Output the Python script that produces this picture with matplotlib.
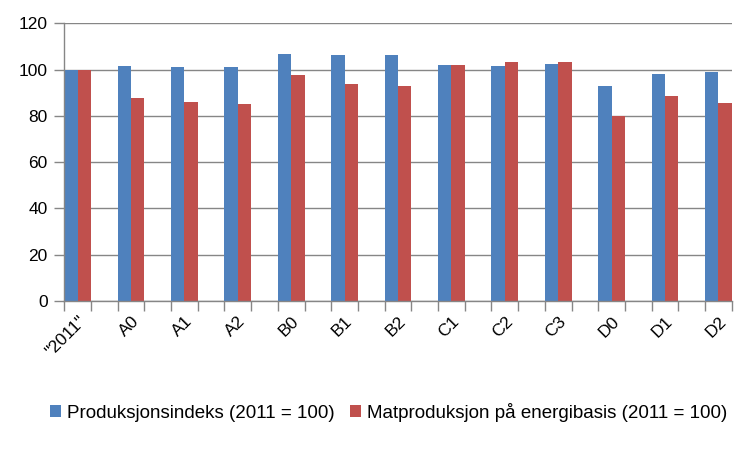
import matplotlib
matplotlib.use("Agg")
import matplotlib.pyplot as plt
import numpy as np

plt.rcParams["font.family"] = ["Liberation Sans", "DejaVu Sans"]

# data
categories = ['"2011"', "A0", "A1", "A2", "B0", "B1", "B2",
              "C1", "C2", "C3", "D0", "D1", "D2"]
prod_index = [100, 101.6, 101.1, 101.1, 106.7, 106.3, 106.3,
              102.0, 101.6, 102.4, 92.9, 98.1, 99.0]
food_energy = [100, 87.7, 86.0, 85.1, 97.7, 93.8, 92.9,
               102.0, 103.3, 103.3, 80.0, 88.6, 85.6]
labels = ["Produksjonsindeks (2011 = 100)",
          "Matproduksjon på energibasis (2011 = 100)"]

blue = "#4F81BD"
red = "#C0504D"
grey = "#868686"

fig = plt.figure(figsize=(7.5, 4.5), dpi=100)
ax = fig.add_axes([0.0857, 0.331, 0.890, 0.617])

# every label sits on every other slot, slots in between are empty
x = np.arange(len(categories)) * 2
w = 0.5
ax.bar(x - w / 2, prod_index, w, color=blue, label=labels[0], zorder=2)
ax.bar(x + w / 2, food_energy, w, color=red, label=labels[1], zorder=2)

ax.set_xlim(-0.5, x[-1] + 0.5)
ax.set_ylim(0, 120)
ax.set_yticks(np.arange(0, 121, 20))
ax.yaxis.grid(True, color=grey, linewidth=1, zorder=0)

ax.set_xticks(x)
ax.set_xticklabels(categories, rotation=45, ha="right", rotation_mode="anchor")
ax.set_xticks(np.arange(-0.5, x[-1] + 1, 1), minor=True)
ax.tick_params(axis="x", which="major", length=0, pad=9, labelsize=12.5)
ax.tick_params(axis="x", which="minor", length=7, width=1, color=grey)
ax.tick_params(axis="y", length=7, width=1, color=grey, labelsize=12.5, pad=5)

for side in ["top", "right"]:
    ax.spines[side].set_visible(False)
for side in ["left", "bottom"]:
    ax.spines[side].set_color(grey)
    ax.spines[side].set_linewidth(1)

fig.legend(loc="center", bbox_to_anchor=(0.518, 0.084), ncol=2, frameon=False,
           fontsize=13.5, handlelength=0.6, handleheight=0.6, handletextpad=0.3,
           columnspacing=0.8)

fig.savefig("out.png", dpi=100)
